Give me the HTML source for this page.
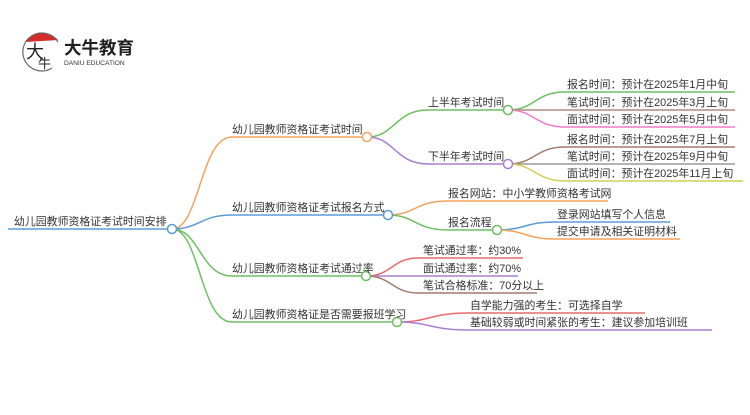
<!DOCTYPE html>
<html><head><meta charset="utf-8"><style>
html,body{margin:0;padding:0;background:#fff;}
svg text{font-family:"Liberation Sans","Noto Sans CJK SC",sans-serif;font-size:10.9px;fill:#333;}
</style></head><body>
<svg width="750" height="410" viewBox="0 0 750 410" xmlns="http://www.w3.org/2000/svg">
<g fill="none" stroke-width="1.5">
<path d="M8 229 H172" stroke="#5b9bd5"/>
<path d="M172 229 C200 229,200 137,232 137 H367" stroke="#f5a25d"/>
<path d="M367 137 C395 137,395 110,428 110 H508" stroke="#6cc060"/>
<path d="M508 110 C535 110,535 92,565 92 H735" stroke="#6cc060"/>
<path d="M508 110 H735" stroke="#b08a80"/>
<path d="M508 110 C535 110,535 127,565 127 H735" stroke="#f07ac8"/>
<path d="M367 137 C395 137,395 164,428 164 H508" stroke="#a97fd6"/>
<path d="M508 164 C535 164,535 147,565 147 H735" stroke="#a37a6e"/>
<path d="M508 164 H735" stroke="#9a9a9a"/>
<path d="M508 164 C535 164,535 181,565 181 H743" stroke="#d0d050"/>
<path d="M172 229 C200 229,200 215,232 215 H388" stroke="#5b9bd5"/>
<path d="M388 215 C415 215,415 201,448 201 H608" stroke="#f5a25d"/>
<path d="M388 215 C415 215,415 230,448 230 H497" stroke="#6cc060"/>
<path d="M497 230 C525 230,525 222,555 222 H670" stroke="#5b9bd5"/>
<path d="M497 230 C525 230,525 239,555 239 H680" stroke="#f5a25d"/>
<path d="M172 229 C200 229,200 276,232 276 H366" stroke="#6cc060"/>
<path d="M366 276 C392 276,392 258,418 258 H523" stroke="#e86a6a"/>
<path d="M366 276 H518" stroke="#a97fd6"/>
<path d="M366 276 C392 276,392 293,418 293 H537" stroke="#a37a6e"/>
<path d="M172 229 C200 229,200 322,232 322 H397" stroke="#6cc060"/>
<path d="M397 322 C430 322,430 313,468 313 H645" stroke="#e86a6a"/>
<path d="M397 322 C430 322,430 330,468 330 H712" stroke="#a97fd6"/>
</g>
<g fill="#fff" stroke-width="1.5">
<circle cx="172" cy="229" r="4.5" stroke="#5b9bd5"/>
<circle cx="367" cy="137" r="4.5" stroke="#f5a25d"/>
<circle cx="508" cy="110" r="4.5" stroke="#6cc060"/>
<circle cx="508" cy="164" r="4.5" stroke="#a97fd6"/>
<circle cx="388" cy="215" r="4.5" stroke="#5b9bd5"/>
<circle cx="497" cy="230" r="4.5" stroke="#6cc060"/>
<circle cx="366" cy="276" r="4.5" stroke="#6cc060"/>
<circle cx="397" cy="322" r="4.5" stroke="#6cc060"/>
</g>
<text x="14" y="225">幼儿园教师资格证考试时间安排</text>
<text x="232" y="133">幼儿园教师资格证考试时间</text>
<text x="428" y="106">上半年考试时间</text>
<text x="567" y="88">报名时间：预计在2025年1月中旬</text>
<text x="567" y="106">笔试时间：预计在2025年3月上旬</text>
<text x="567" y="123">面试时间：预计在2025年5月中旬</text>
<text x="428" y="160">下半年考试时间</text>
<text x="567" y="143">报名时间：预计在2025年7月上旬</text>
<text x="567" y="160">笔试时间：预计在2025年9月中旬</text>
<text x="567" y="177">面试时间：预计在2025年11月上旬</text>
<text x="232" y="211">幼儿园教师资格证考试报名方式</text>
<text x="448" y="197">报名网站：中小学教师资格考试网</text>
<text x="448" y="226">报名流程</text>
<text x="557" y="218">登录网站填写个人信息</text>
<text x="557" y="235">提交申请及相关证明材料</text>
<text x="232" y="272">幼儿园教师资格证考试通过率</text>
<text x="423" y="254">笔试通过率：约30%</text>
<text x="423" y="272">面试通过率：约70%</text>
<text x="423" y="289">笔试合格标准：70分以上</text>
<text x="232" y="318">幼儿园教师资格证是否需要报班学习</text>
<text x="470" y="309">自学能力强的考生：可选择自学</text>
<text x="470" y="326">基础较弱或时间紧张的考生：建议参加培训班</text>
<path d="M26 42 A20 20 0 0 1 58 40 Z" fill="#d62b2b"/>
<path d="M52 68 A19 19 0 1 1 58 42" fill="none" stroke="#666" stroke-width="1.2"/>
<text x="26" y="58" style="font-size:18px;fill:#222">大</text>
<text x="38" y="68" style="font-size:13px;fill:#222">牛</text>
<text x="64" y="54" style="font-size:17.5px;font-weight:bold;fill:#222">大牛教育</text>
<text x="64" y="65" style="font-size:6.6px;fill:#333">DANIU EDUCATION</text>
</svg>
</body></html>
